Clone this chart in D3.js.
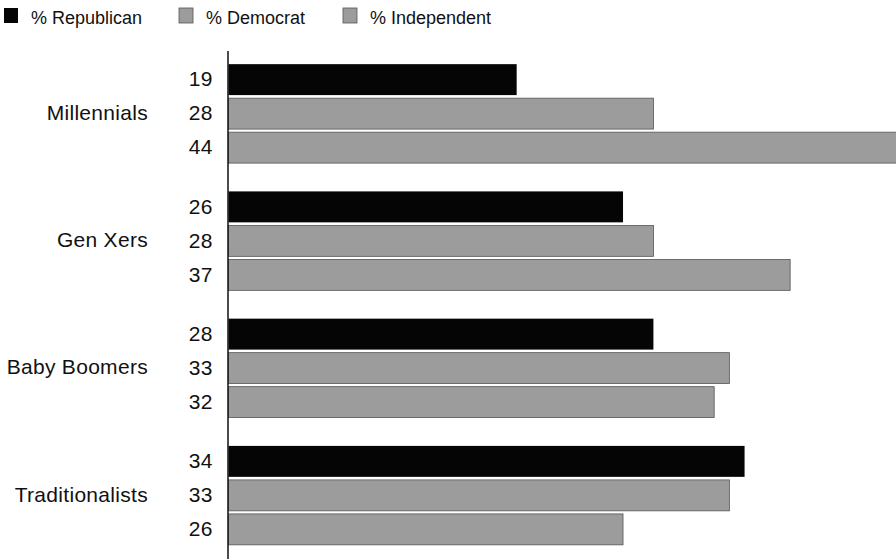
<!DOCTYPE html>
<html><head><meta charset="utf-8">
<script src="https://cdn.jsdelivr.net/npm/d3@7"></script>
<style>
body{margin:0;background:#fff;}
text{font-family:"Liberation Sans",Arial,sans-serif;fill:#111;}
</style></head>
<body><svg id="c" width="896" height="559"></svg>
<script>
const categories = ["Millennials","Gen Xers","Baby Boomers","Traditionalists"];
const seriesNames = ["% Republican","% Democrat","% Independent"];
const republican = [19,26,28,34];
const democrat = [28,28,33,33];
const independent = [44,37,32,26];
const seriesColors = ["#050505","#9c9c9c","#9c9c9c"];

const svg = d3.select("#c");
const series = [republican, democrat, independent];

const x = d3.scaleLinear().domain([0,44]).range([228,896.5]);
const y0 = d3.scaleBand().domain(categories).range([50,559]).padding(0);
const y1 = d3.scaleBand().domain([0,1,2]).range([y0.bandwidth()/2-51, y0.bandwidth()/2+51]).paddingInner(0.09).paddingOuter(0.045);

// bars
categories.forEach((cat,i)=>{
  const g = svg.append("g").attr("transform",`translate(0,${y0(cat)})`);
  series.forEach((s,j)=>{
    g.append("rect")
      .attr("x", x(0)+0.5)
      .attr("y", y1(j))
      .attr("width", x(s[i]) - x(0) - 0.5)
      .attr("height", y1.bandwidth())
      .attr("fill", seriesColors[j])
      .attr("stroke", j===0 ? "none" : "#555")
      .attr("stroke-width", 0.8);
    g.append("text")
      .attr("x", 213)
      .attr("y", y1(j)+y1.bandwidth()/2)
      .attr("dy","0.32em")
      .attr("text-anchor","end")
      .attr("font-size","21px")
      .attr("letter-spacing","0.5px")
      .text(s[i]);
  });
  g.append("text")
    .attr("x", 148)
    .attr("y", y0.bandwidth()/2)
    .attr("dy","0.3em")
    .attr("text-anchor","end")
    .attr("font-size","21px")
    .attr("letter-spacing","0.3px")
    .text(cat);
});

// axis line
svg.append("line").attr("x1",x(0)).attr("x2",x(0)).attr("y1",51).attr("y2",559)
  .attr("stroke","#111").attr("stroke-width",1.5);

// legend
const legX = [4,179,343];
seriesNames.forEach((n,j)=>{
  svg.append("rect").attr("x",legX[j]).attr("y",8).attr("width",14).attr("height",15)
    .attr("fill",seriesColors[j]).attr("stroke", j===0?"none":"#555").attr("stroke-width",0.8);
  svg.append("text").attr("x",legX[j]+27).attr("y",24).attr("font-size","18px")
    .text(n);
});
</script></body></html>
